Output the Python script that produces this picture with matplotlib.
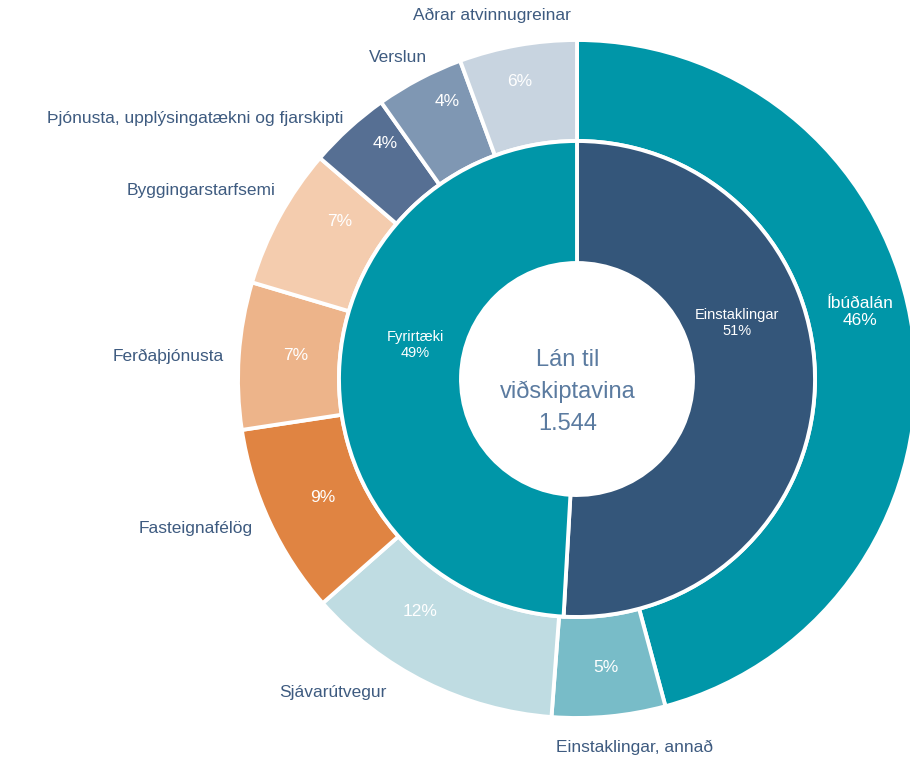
import matplotlib
matplotlib.use("Agg")
import matplotlib.pyplot as plt
import numpy as np

plt.rcParams['font.family'] = ['Liberation Sans', 'DejaVu Sans']

# ---- data ----
outer_labels = ["Íbúðalán", "Einstaklingar, annað", "Sjávarútvegur", "Fasteignafélög",
                "Ferðaþjónusta", "Byggingarstarfsemi",
                "Þjónusta, upplýsingatækni og fjarskipti", "Verslun", "Aðrar atvinnugreinar"]
outer_values = [45.8, 5.4, 12.3, 9.1, 7.0, 6.7, 3.9, 4.2, 5.6]
inner_labels = ["Einstaklingar", "Fyrirtæki"]
inner_values = [50.9, 49.1]
center_title = "Lán til\nviðskiptavina\n1.544"

# ---- styles ----
outer_colors = ["#0096A8", "#78BCC8", "#BFDCE2", "#E08442", "#EDB48A", "#F4CCAE",
                "#566F93", "#7F97B3", "#C8D4E0"]
inner_colors = ["#34567A", "#0096A8"]
label_color = "#3E5B80"
center_color = "#5B7BA0"

W, H = 910, 759
CX, CY = 577, 379          # pie centre in pixels
R_OUT, R_MID, R_IN = 339, 238, 116

def px(x, y):
    return x - CX, CY - y

fig = plt.figure(figsize=(W / 100, H / 100), dpi=100)
ax = fig.add_axes([0, 0, 1, 1])

ax.pie(outer_values, radius=R_OUT, startangle=90, counterclock=False, colors=outer_colors,
       wedgeprops=dict(width=R_OUT - R_MID, edgecolor="white", linewidth=2.8))
ax.pie(inner_values, radius=R_MID, startangle=90, counterclock=False, colors=inner_colors,
       wedgeprops=dict(width=R_MID - R_IN, edgecolor="white", linewidth=2.8))

ax.set_xlim(-CX, W - CX)
ax.set_ylim(-(H - CY), CY)
ax.set_aspect("equal")
ax.axis("off")

# percentage labels inside outer ring (pixel positions of label centres)
pct_label_pos = [(860, 312), (606, 668), (420, 612), (323, 497), (296, 355),
                 (340, 222), (385, 143), (447, 101), (520, 82)]
for i, v in enumerate(outer_values):
    txt = f"{v:.0f}%"
    if i == 0:
        txt = f"{outer_labels[0]}\n{v:.0f}%"
    dx, dy = px(*pct_label_pos[i])
    ax.text(dx, dy, txt, ha="center", va="center", color="white", fontsize=12.5,
            linespacing=1.15)

# outer category labels (pixel positions of text anchors)
outer_label_pos = {
    1: (635, 747, "center"),
    2: (333, 693, "center"),
    3: (253, 528, "right"),
    4: (224, 356, "right"),
    5: (276, 191, "right"),
    6: (343, 118, "right"),
    7: (398, 57, "center"),
    8: (492, 15, "center"),
}
for i, (x, y, ha) in outer_label_pos.items():
    dx, dy = px(x, y)
    ax.text(dx, dy, outer_labels[i], ha=ha, va="center", color=label_color, fontsize=12.5)

# inner labels
inner_label_pos = [(737, 323), (415, 345)]
for i, (x, y) in enumerate(inner_label_pos):
    dx, dy = px(x, y)
    ax.text(dx, dy, f"{inner_labels[i]}\n{inner_values[i]:.0f}%", ha="center", va="center",
            color="white", fontsize=10.5, linespacing=1.15)

# centre text
dx, dy = px(568, 392)
ax.text(dx, dy, center_title, ha="center", va="center", color=center_color,
        fontsize=17, linespacing=1.55)

fig.savefig("out.png", dpi=100)
